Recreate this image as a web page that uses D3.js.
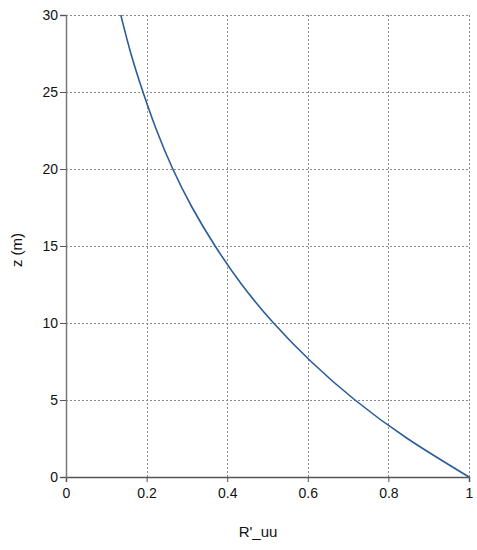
<!DOCTYPE html>
<html><head><meta charset="utf-8">
<script src="https://cdn.jsdelivr.net/npm/d3@7"></script>
<style>body{margin:0;background:#fff}svg{display:block}</style>
</head><body>
<svg id="c" width="477" height="550"></svg>
<script>
// Data: height z (m) vs R'_uu
const zValues = [0, 2.5, 5, 7.5, 10, 12.5, 15, 17.5, 20, 22.5, 25, 27.5, 30];
const rValues = [1, 0.847, 0.717, 0.608, 0.515, 0.436, 0.370, 0.313, 0.265, 0.225, 0.191, 0.161, 0.136];
const xTicks = [0, 0.2, 0.4, 0.6, 0.8, 1];
const yTicks = [0, 5, 10, 15, 20, 25, 30];
const xTitle = "R'_uu";
const yTitle = "z (m)";

const svg = d3.select("#c");
const m = {l: 66, r: 469, t: 15, b: 477};
const x = d3.scaleLinear().domain([0, 1]).range([m.l, m.r]);
const y = d3.scaleLinear().domain([0, 30]).range([m.b, m.t]);

const grid = svg.append("g").attr("stroke", "#8a8a8a").attr("stroke-width", 1).attr("stroke-dasharray", "2,2");
grid.selectAll("line.v").data(xTicks.filter(d => d > 0)).join("line")
  .attr("x1", d => Math.round(x(d)) + 0.5).attr("x2", d => Math.round(x(d)) + 0.5)
  .attr("y1", m.t).attr("y2", m.b);
grid.selectAll("line.h").data(yTicks.filter(d => d > 0)).join("line")
  .attr("y1", d => Math.round(y(d)) + 0.5).attr("y2", d => Math.round(y(d)) + 0.5)
  .attr("x1", m.l).attr("x2", m.r);

const font = "Liberation Sans, Arial, sans-serif";

const xAxis = svg.append("g").attr("transform", `translate(0,${m.b})`)
  .call(d3.axisBottom(x).tickValues(xTicks).tickFormat(d3.format("")).tickSizeOuter(0).tickSize(5).tickPadding(6));
xAxis.select(".domain").attr("stroke", "#555").attr("stroke-width", 1.5);
xAxis.selectAll(".tick line").attr("stroke", "#555");
xAxis.selectAll("text").attr("font-family", font).attr("font-size", 14).attr("fill", "#111");

const yAxis = svg.append("g").attr("transform", `translate(${m.l},0)`)
  .call(d3.axisLeft(y).tickValues(yTicks).tickSizeOuter(0).tickSize(6).tickPadding(2));
yAxis.select(".domain").attr("stroke", "#777").attr("stroke-width", 1.5);
yAxis.selectAll(".tick line").attr("stroke", "#555");
yAxis.selectAll("text").attr("font-family", font).attr("font-size", 14).attr("fill", "#111");

const pts = zValues.map((z, i) => ({z, r: rValues[i]}));
svg.append("path").datum(pts)
  .attr("fill", "none").attr("stroke", "#2b5c98").attr("stroke-width", 1.6)
  .attr("d", d3.line().x(d => x(d.r)).y(d => y(d.z)).curve(d3.curveNatural));

svg.append("text").attr("x", 258).attr("y", 537).attr("text-anchor", "middle")
  .attr("font-family", font).attr("font-size", 15).attr("fill", "#111").text(xTitle);
svg.append("text").attr("transform", "translate(22,250) rotate(-90)").attr("text-anchor", "middle")
  .attr("font-family", font).attr("font-size", 15).attr("fill", "#111").text(yTitle);
</script>
</body></html>
